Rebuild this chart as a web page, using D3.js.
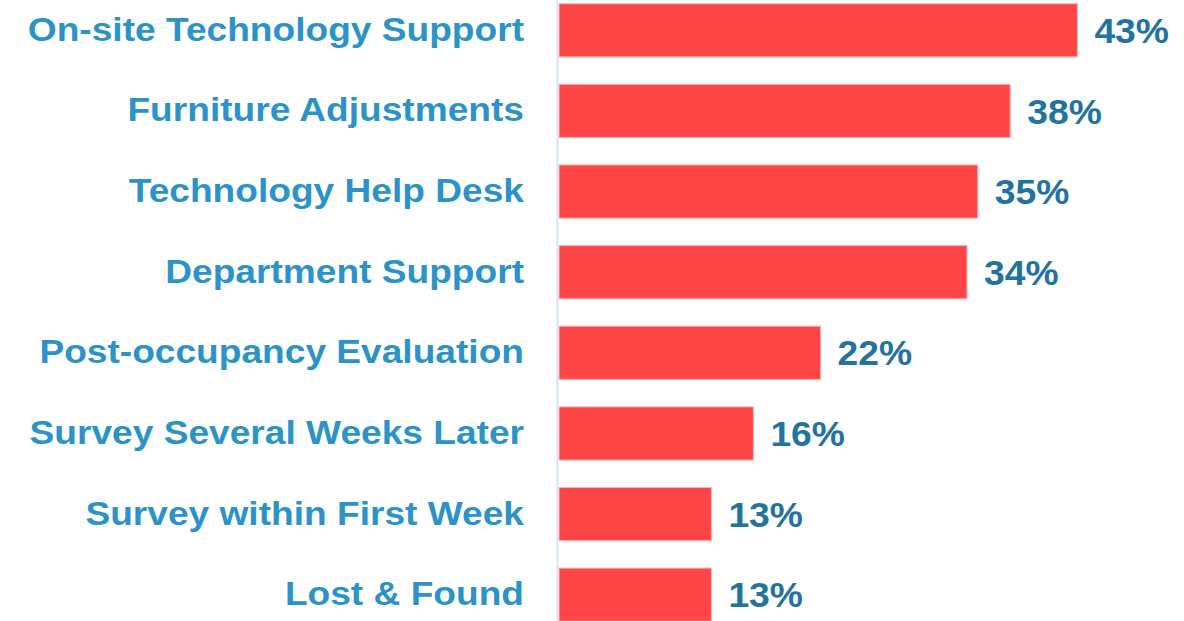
<!DOCTYPE html>
<html>
<head>
<meta charset="utf-8">
<script src="https://cdn.jsdelivr.net/npm/d3@7"></script>
<style>
html,body{margin:0;padding:0;background:#fff;}
svg{display:block;}
</style>
</head>
<body>
<svg id="chart" width="1184" height="621"></svg>
<script>
const categories = [
  "On-site Technology Support",
  "Furniture Adjustments",
  "Technology Help Desk",
  "Department Support",
  "Post-occupancy Evaluation",
  "Survey Several Weeks Later",
  "Survey within First Week",
  "Lost & Found"
];
const values = [43.2, 37.6, 34.9, 34.0, 21.8, 16.2, 12.7, 12.7];
const valueLabels = ["43%", "38%", "35%", "34%", "22%", "16%", "13%", "13%"];

const svg = d3.select("#chart");
const x0 = 559;
const x = d3.scaleLinear().domain([0, 50]).range([x0, x0 + 600]);
const y = d3.scaleBand().domain(categories).range([-10, 635]).paddingInner(0.34).paddingOuter(0.17);

svg.selectAll("rect.bar").data(categories).enter().append("rect")
  .attr("class", "bar")
  .attr("x", x(0))
  .attr("y", d => y(d))
  .attr("width", (d, i) => x(values[i]) - x(0))
  .attr("height", y.bandwidth())
  .attr("fill", "#ff4646")
  .attr("stroke", "#ffb3b3")
  .attr("stroke-width", 1);

svg.append("line")
  .attr("x1", 557.5).attr("x2", 557.5)
  .attr("y1", 0).attr("y2", 621)
  .attr("stroke", "#d3e6f3").attr("stroke-width", 2);

svg.selectAll("text.cat").data(categories).enter().append("text")
  .attr("class", "cat")
  .attr("transform", d => `translate(524,${y(d) + y.bandwidth() / 2 - 1}) scale(1.125,1)`)
  .attr("dy", "0.35em")
  .attr("text-anchor", "end")
  .attr("font-family", "'Liberation Sans', Arial, sans-serif")
  .attr("font-weight", "bold")
  .attr("font-size", 33)
  .attr("fill", "#2b93c8")
  .text(d => d);

svg.selectAll("text.val").data(categories).enter().append("text")
  .attr("class", "val")
  .attr("transform", (d, i) => `translate(${x(values[i]) + 17},${y(d) + y.bandwidth() / 2 + 0.5}) scale(1.08,1)`)
  .attr("dy", "0.35em")
  .attr("font-family", "'Liberation Sans', Arial, sans-serif")
  .attr("font-weight", "bold")
  .attr("font-size", 34.5)
  .attr("fill", "#23739e")
  .text((d, i) => valueLabels[i]);
</script>
</body>
</html>
